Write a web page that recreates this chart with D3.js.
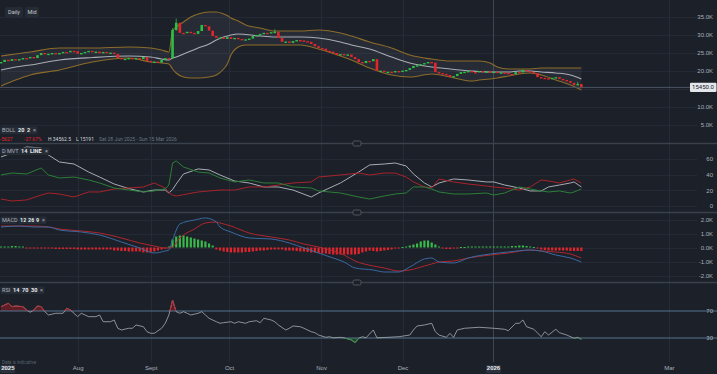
<!DOCTYPE html>
<html>
<head>
<meta charset="utf-8">
<title>Daily chart</title>
<script src="https://cdn.jsdelivr.net/npm/d3@7"></script>
<style>
  body { margin: 0; background: #1b2029; }
  svg { display: block; font-family: Roboto, "Open Sans", sans-serif; }
</style>
</head>
<body>
<svg id="chart" width="717" height="374"></svg>
<script>
// ---- data ----
// one close per daily candle, open = previous close
var firstOpen = 22200;
var closes = [22500,23100,22800,23300,23000,23300,23600,23500,23900,23600,
  24400,25000,24700,24800,25000,24700,25000,25300,25200,25600,
  25500,24800,25000,25300,25600,25300,25400,24900,25300,25000,
  25100,24700,23600,23300,23400,23600,23200,23600,23300,23900,
  22800,22500,22600,22300,23100,23600,23500,31400,33400,30600,
  30500,30900,30600,30300,31100,32800,32400,31200,29700,29200,
  29300,28900,29400,28900,29200,28900,28600,28800,29000,29700,
  30000,30300,30600,30500,30800,30900,29200,28100,28200,27800,
  28300,28600,28500,28300,28100,27500,26900,26400,26200,25600,
  25400,25000,24400,24700,24500,24600,23900,23300,22500,22200,
  22800,22700,23300,20000,20100,19700,19800,19600,20000,19900,
  20100,20300,20800,21400,21600,21900,22200,22500,22300,19700,
  19400,19200,18900,18300,18600,19200,19700,19800,20000,19700,
  19600,20000,19800,19900,19700,19800,19400,19600,19500,19200,
  19100,19700,19600,20300,20000,19700,19400,18300,18100,18000,
  17800,18100,18300,17800,17500,17200,16700,16100,16400,15450];
// [candle, low, high] for the visible wicks
var wicks = [[47, 23300, 31900], [48, 31200, 34562], [75, 30700, 31600], [158, 16100, 17000], [159, 15191, 16400]];
var lastPrice = 15450;

// Bollinger 20 2
var bandIdx = [0,4,8,16,25,35,41,44,46,47,48,50,52,54,57,59,61,62,63,65,67,71,75,82,87,93,96,101,107,112,118,123,129,131,134,136,139,142,145,148,152,156,159];
var bollUpper = [24170,24720,25280,26390,26390,26670,26390,25830,25280,31110,32220,33610,35000,35830,36390,36390,35830,35420,34720,33890,32780,31940,31110,31110,31390,30560,29720,28060,26390,24440,23330,22780,22780,22780,22220,21110,20560,20560,20560,20830,20830,20830,20830];
var bollMid = [20280,21110,21670,23060,23750,24170,23890,23330,23060,23610,23890,24720,25560,26390,27500,28610,29440,29720,30000,30280,30140,29720,29440,29440,29170,28060,27220,26110,23890,22220,21110,20560,20000,19860,19720,19720,19720,20000,20000,19720,19440,18890,17780];
var bollLower = [15830,17500,18890,20280,22500,23610,22500,22220,21940,20560,19440,18330,18060,18060,18330,18890,20560,21940,24440,26670,27220,27220,27220,27220,26110,24170,23060,20830,18890,18330,19170,18330,17220,17500,17780,18060,18610,19170,19440,18890,17500,16110,14720];

// DMI 14
var dmiIdx = [0,3,7,11,13,16,20,24,27,31,35,39,42,45,46,47,48,50,54,57,60,64,68,72,76,80,85,87,93,98,101,105,108,111,113,116,118,120,124,128,133,135,138,142,145,148,150,153,156,157,159];
var adx = [62.6,67.7,75.4,74.1,65.1,56.2,53.6,43.4,37.0,28.1,22.3,17.9,20.4,20.4,16.6,21.0,28.1,40.9,47.3,46.0,39.6,31.9,29.4,24.3,24.3,20.4,11.5,16.6,29.4,43.4,52.4,53.6,54.9,51.1,40.9,29.4,24.3,29.4,34.5,33.2,30.7,30.7,26.8,23.0,19.2,19.2,24.3,26.8,29.4,30.7,24.3];
var plusDI = [39.6,42.1,40.9,48.5,39.6,35.8,37.0,33.2,29.4,23.0,20.4,17.9,19.2,22.0,26.8,54.9,57.5,49.8,43.4,42.1,35.8,30.7,33.2,29.4,29.4,24.3,23.0,19.2,16.6,11.5,8.9,12.8,15.3,16.6,24.3,24.3,21.7,17.9,15.3,15.3,16.6,14.0,16.6,24.3,21.7,19.2,17.9,19.2,16.6,17.9,21.7];
var minusDI = [8.9,6.4,7.7,14.0,16.6,15.3,11.5,17.9,17.9,21.7,23.0,24.3,29.4,23.0,17.0,14.0,12.8,14.5,17.9,19.2,20.4,20.4,24.3,24.3,26.8,29.4,30.7,37.0,39.6,42.1,39.6,42.1,42.1,37.0,30.7,24.3,23.0,34.5,30.7,28.1,25.5,24.3,23.0,20.4,24.3,33.2,31.9,29.4,33.2,34.5,29.4];

// MACD 12 26 9
var macdIdx = [0,5,9,13,16,22,27,33,38,42,45,46,47,49,53,56,59,60,63,68,74,79,83,87,91,94,97,102,105,109,112,116,118,120,124,128,134,139,145,148,152,156,159];
var macdLine = [1464,1536,1464,1464,1250,1107,893,393,-36,-393,-250,-179,536,1679,1964,2107,1821,1464,1107,679,607,321,-36,-393,-750,-1036,-1464,-1607,-1750,-1750,-1393,-821,-750,-1036,-1107,-750,-464,-321,-179,-250,-536,-750,-1036];
var signalLine = [1536,1536,1536,1464,1321,1179,1036,679,321,107,-36,-36,36,679,1321,1750,1821,1750,1536,1036,750,536,250,36,-250,-536,-964,-1321,-1464,-1679,-1607,-1321,-1179,-1036,-964,-750,-536,-393,-179,-250,-321,-464,-750];
var macdHist = [70,70,70,105,105,70,70,-35,-35,-35,
  -35,-35,-70,-70,-70,-105,-105,-105,-105,-105,
  -105,-140,-140,-140,-140,-140,-140,-140,-140,-140,
  -140,-215,-215,-250,-250,-285,-285,-285,-285,-355,
  -355,-320,-285,-215,-140,-70,70,570,785,855,
  855,785,715,640,570,500,430,285,140,-140,
  -215,-285,-320,-355,-355,-355,-355,-320,-320,-285,
  -250,-215,-215,-180,-140,-140,-140,-140,-215,-215,
  -215,-250,-285,-285,-320,-355,-355,-390,-430,-430,
  -465,-500,-500,-500,-500,-500,-500,-500,-465,-355,
  -285,-215,-250,-285,-250,-215,-180,-140,-70,-35,
  35,70,140,215,285,430,500,500,355,215,
  70,-70,-105,-105,-70,-35,35,35,70,70,
  70,70,70,70,70,70,70,70,70,70,
  105,105,140,140,105,70,35,-70,-140,-180,
  -215,-215,-215,-215,-215,-215,-250,-250,-250,-250];

// RSI 14
var rsiIdx = [0,2,3,4,6,7,8,9,10,11,12,13,15,17,18,19,21,22,23,24,26,27,28,30,31,32,33,35,36,37,39,40,41,42,44,45,46,47,48,49,50,51,52,54,55,56,57,59,60,61,63,64,65,67,68,70,71,72,74,75,76,78,79,80,82,83,85,86,87,89,90,91,93,94,96,97,98,99,100,102,103,106,109,112,113,114,116,118,119,120,122,123,124,125,127,131,135,138,139,141,142,143,144,146,148,149,150,152,153,155,157,158,159];
var rsi = [76.4,81.4,76.4,77.4,76.4,71.5,68.1,71.5,77.4,76.4,69.0,64.1,66.6,66.6,74.0,71.5,61.6,66.6,64.1,61.6,61.6,64.1,54.1,54.1,56.7,44.4,41.9,44.4,44.4,49.3,46.7,39.3,37.0,37.0,44.4,51.8,64.1,86.3,69.0,66.6,69.0,66.6,64.1,66.6,69.0,64.1,59.2,54.1,51.8,52.7,54.1,51.8,54.1,51.8,54.1,55.6,52.7,59.2,56.7,54.1,49.3,41.9,44.4,47.8,46.7,44.4,39.3,37.9,34.4,31.0,31.9,30.3,31.0,30.3,27.0,23.0,29.6,31.9,30.3,41.9,30.3,31.0,31.9,34.4,41.9,47.8,49.3,51.8,39.3,34.4,31.0,37.0,31.0,41.9,44.4,45.9,44.4,42.9,40.8,51.8,51.8,56.7,46.7,42.9,31.9,39.3,34.4,42.9,37.9,34.4,29.6,31.0,28.1];

// time axis (candle positions)
var tickIdx = [1, 21, 41, 62.5, 87.7, 110, 134.8, 183];
var tickLabels = ["2025", "Aug", "Sept", "Oct", "Nov", "Dec", "2026", "Mar"];

var priceTicks = [5000, 10000, 15000, 20000, 25000, 30000, 35000];
var priceLabels = [5000, 10000, 20000, 25000, 30000, 35000]; // 15.0K sits under the price tag
var dmiTicks = [0, 20, 40, 60];
var macdTicks = [-2000, -1000, 0, 1000, 2000];
var rsiLevels = [70, 30];

// ---- scales ----
var svg = d3.select("#chart");
var W = 717;
var x = d3.scaleLinear().domain([0, 195]).range([1, 712.75]);
var yP = d3.scaleLinear().domain([0, 35000]).range([143, 17]);
var yD = d3.scaleLinear().domain([0, 60]).range([206, 159]);
var yM = d3.scaleLinear().domain([-2000, 2000]).range([275.5, 219.5]);
var yR = d3.scaleLinear().domain([30, 70]).range([338, 311]);

var txt = "#aab0ba";

// ---- grids ----
var grid = svg.append("g");
function hgrid(scale, vals) {
  grid.selectAll(null).data(vals).enter().append("line")
    .attr("x1", 0).attr("x2", 697)
    .attr("y1", d => Math.round(scale(d)) + 0.5).attr("y2", d => Math.round(scale(d)) + 0.5)
    .attr("stroke", "#232935").attr("stroke-width", 1);
}
hgrid(yP, priceTicks);
hgrid(yD, dmiTicks);
hgrid(yM, macdTicks);

grid.selectAll(null).data(tickIdx.slice(1)).enter().append("line")
  .attr("x1", d => Math.round(x(d)) + 0.5).attr("x2", d => Math.round(x(d)) + 0.5)
  .attr("y1", 0).attr("y2", 362)
  .attr("stroke", (d, i) => tickLabels[i + 1] === "2026" ? "#3d4552" : "#252c37");

// panel separators
var seps = [143.5, 212.5, 282.5];
svg.selectAll(null).data(seps).enter().append("line")
  .attr("x1", 0).attr("x2", W).attr("y1", d => d).attr("y2", d => d)
  .attr("stroke", "#3b414b").attr("stroke-width", 1.5);
svg.selectAll(null).data(seps).enter().append("rect")
  .attr("x", 353).attr("y", d => d - 2.5).attr("width", 8).attr("height", 5).attr("rx", 1.5)
  .attr("fill", "#1b2029").attr("stroke", "#5d636d").attr("stroke-width", 0.8);

// ---- price panel ----
var bandPts = bandIdx.map((d, i) => ({i: d, u: bollUpper[i], m: bollMid[i], l: bollLower[i]}));
svg.append("path").datum(bandPts)
  .attr("d", d3.area().x(d => x(d.i)).y0(d => yP(d.l)).y1(d => yP(d.u)).curve(d3.curveMonotoneX))
  .attr("fill", "rgba(200,205,215,0.07)");
[["u", "#8d6c2a"], ["l", "#8d6c2a"], ["m", "#a9adb4"]].forEach(function(s) {
  svg.append("path").datum(bandPts)
    .attr("d", d3.line().x(d => x(d.i)).y(d => yP(d[s[0]])).curve(d3.curveMonotoneX))
    .attr("fill", "none").attr("stroke", s[1]).attr("stroke-width", 1.1);
});

var candles = closes.map((c, i) => ({i: i, o: i === 0 ? firstOpen : closes[i - 1], c: c}));
var up = "#2cbf44", down = "#e2262c";
svg.selectAll(null).data(wicks).enter().append("line")
  .attr("x1", d => x(d[0])).attr("x2", d => x(d[0]))
  .attr("y1", d => yP(d[1])).attr("y2", d => yP(d[2]))
  .attr("stroke", d => candles[d[0]].c >= candles[d[0]].o ? up : down).attr("stroke-width", 0.8);
svg.selectAll(null).data(candles).enter().append("rect")
  .attr("x", d => x(d.i) - 1.3).attr("width", 2.6)
  .attr("y", d => yP(Math.max(d.o, d.c)))
  .attr("height", d => Math.max(1.4, Math.abs(yP(d.o) - yP(d.c))))
  .attr("fill", d => d.c >= d.o ? up : down);

svg.append("line").attr("x1", 0).attr("x2", 690)
  .attr("y1", yP(lastPrice)).attr("y2", yP(lastPrice))
  .attr("stroke", "#4d5562").attr("stroke-width", 1);

// ---- DMI ----
[[adx, "#a8acb3"], [minusDI, "#a8232a"], [plusDI, "#2c7f37"]].forEach(function(s) {
  svg.append("path").datum(dmiIdx.map((d, i) => [d, s[0][i]]))
    .attr("d", d3.line().x(d => x(d[0])).y(d => yD(d[1])))
    .attr("fill", "none").attr("stroke", s[1]).attr("stroke-width", 1);
});

// ---- MACD ----
svg.selectAll(null).data(macdHist).enter().append("rect")
  .attr("x", (d, i) => x(i) - 1.1).attr("width", 2.2)
  .attr("y", d => yM(Math.max(0, d)))
  .attr("height", d => Math.max(1, Math.abs(yM(d) - yM(0))))
  .attr("fill", d => d >= 0 ? "#3bb84a" : "#e3242b");
[[signalLine, "#b0262d"], [macdLine, "#3a6aa0"]].forEach(function(s) {
  svg.append("path").datum(macdIdx.map((d, i) => [d, s[0][i]]))
    .attr("d", d3.line().x(d => x(d[0])).y(d => yM(d[1])).curve(d3.curveMonotoneX))
    .attr("fill", "none").attr("stroke", s[1]).attr("stroke-width", 1);
});

// ---- RSI ----
var defs = svg.append("defs");
defs.append("clipPath").attr("id", "rsiHi").append("rect")
  .attr("x", 0).attr("y", 283).attr("width", W).attr("height", yR(70) - 283);
defs.append("clipPath").attr("id", "rsiLo").append("rect")
  .attr("x", 0).attr("y", yR(30)).attr("width", W).attr("height", 362 - yR(30));
var rsiPts = rsiIdx.map((d, i) => [d, rsi[i]]);
var rsiLine = d3.line().x(d => x(d[0])).y(d => yR(d[1]));
svg.append("path").datum(rsiPts).attr("clip-path", "url(#rsiHi)")
  .attr("d", d3.area().x(d => x(d[0])).y0(yR(70)).y1(d => yR(d[1])))
  .attr("fill", "#5e1e25");
svg.append("path").datum(rsiPts).attr("clip-path", "url(#rsiLo)")
  .attr("d", d3.area().x(d => x(d[0])).y0(yR(30)).y1(d => yR(d[1])))
  .attr("fill", "#1f4a29");
svg.selectAll(null).data(rsiLevels).enter().append("line")
  .attr("x1", 0).attr("x2", W).attr("y1", d => yR(d)).attr("y2", d => yR(d))
  .attr("stroke", "#54728e").attr("stroke-width", 1.2);
svg.append("path").datum(rsiPts).attr("d", rsiLine)
  .attr("fill", "none").attr("stroke", "#a9adb4").attr("stroke-width", 0.8);
svg.append("path").datum(rsiPts).attr("d", rsiLine).attr("clip-path", "url(#rsiHi)")
  .attr("fill", "none").attr("stroke", "#b8262e").attr("stroke-width", 0.9);
svg.append("path").datum(rsiPts).attr("d", rsiLine).attr("clip-path", "url(#rsiLo)")
  .attr("fill", "none").attr("stroke", "#2c8f3b").attr("stroke-width", 0.9);

// ---- right axes ----
function rightAxis(scale, vals, fmt) {
  var g = svg.append("g").attr("transform", "translate(713,0)")
    .call(d3.axisLeft(scale).tickValues(vals).tickFormat(fmt).tickSize(0).tickPadding(0));
  g.select(".domain").remove();
  g.selectAll("text").attr("fill", txt).attr("font-size", 6);
}
var kFmt = d => (d / 1000).toFixed(1) + "K";
rightAxis(yP, priceLabels, kFmt);
rightAxis(yD, dmiTicks, d => d);
rightAxis(yM, macdTicks, kFmt);
rightAxis(yR, rsiLevels, d => d);

// last price tag
svg.append("rect").attr("x", 690).attr("y", yP(lastPrice) - 4.6).attr("width", 26.5).attr("height", 9.2)
  .attr("rx", 1).attr("fill", "#e3e6ea");
svg.append("text").attr("x", 703).attr("y", yP(lastPrice) + 2.1).attr("text-anchor", "middle")
  .attr("font-size", 6).attr("fill", "#1b2029").text(lastPrice.toFixed(1));

// ---- time axis ----
var xg = svg.append("g").attr("transform", "translate(0,366)")
  .call(d3.axisBottom(x).tickValues(tickIdx).tickFormat((d, i) => tickLabels[i]).tickSize(0).tickPadding(0));
xg.select(".domain").remove();
xg.selectAll(".tick").each(function(d, i) {
  var lab = tickLabels[i];
  var t = d3.select(this);
  t.select("text").attr("fill", txt).attr("font-size", 6).attr("dy", "0.71em");
  if (/^\d{4}$/.test(lab)) {
    t.insert("rect", "text").attr("x", -7.5).attr("y", -1).attr("width", 15).attr("height", 8)
      .attr("rx", 1).attr("fill", "#2c323d");
    t.select("text").attr("fill", "#e8eaee").attr("font-weight", "bold");
  }
});
xg.select(".tick text").attr("text-anchor", "start").attr("x", -4);
xg.select(".tick rect").attr("x", -5);

svg.append("text").attr("x", 2).attr("y", 364).attr("font-size", 4.5).attr("fill", "#59606b")
  .text("Data is indicative");

// ---- legends ----
function legend(y, parts) {
  parts.forEach(function(p) {
    svg.append("rect").attr("x", p[0] - 1.5).attr("y", y - 5.5).attr("width", p[3] || p[1].length * 3.4 + 3)
      .attr("height", 7.5).attr("rx", 1).attr("fill", "#262c36");
    svg.append("text").attr("x", p[0]).attr("y", y).attr("font-size", 5.5)
      .attr("fill", p[2]).attr("font-weight", p[2] === "#e6e8ec" ? "bold" : "normal").text(p[1]);
  });
}
legend(132, [[2, "BOLL", "#aeb4be"], [18, "20", "#e6e8ec"], [27, "2", "#e6e8ec"], [33, "×", "#aeb4be", 6]]);
legend(153, [[2, "D MVT", "#aeb4be"], [21, "14", "#e6e8ec"], [30, "LINE", "#e6e8ec"], [45, "×", "#aeb4be", 6]]);
legend(222, [[2, "MACD", "#aeb4be"], [20, "12", "#e6e8ec"], [28, "26", "#e6e8ec"], [36, "9", "#e6e8ec"], [42, "×", "#aeb4be", 6]]);
legend(292, [[2, "RSI", "#aeb4be"], [13, "14", "#e6e8ec"], [22, "70", "#e6e8ec"], [31, "30", "#e6e8ec"], [40, "×", "#aeb4be", 6]]);

var info = [[0, "-5627", "#e2262c"], [24, "-27.67%", "#e2262c"], [48, "H 34562.5", "#d4d7dc"], [76, "L 15191", "#d4d7dc"], [99, "Sat 28 Jun 2025 - Sun 15 Mar 2026", "#6f7681"]];
info.forEach(function(p) {
  svg.append("text").attr("x", p[0]).attr("y", 140.5).attr("font-size", 5).attr("fill", p[2]).text(p[1]);
});

// top-left buttons
[[5, 18, "Daily"], [25, 14, "Mid"]].forEach(function(b) {
  svg.append("rect").attr("x", b[0]).attr("y", 7).attr("width", b[1]).attr("height", 10)
    .attr("rx", 1.5).attr("fill", "#252b35");
  svg.append("text").attr("x", b[0] + b[1] / 2).attr("y", 14).attr("text-anchor", "middle")
    .attr("font-size", 5.5).attr("fill", "#c6cad1").text(b[2]);
});
</script>
</body>
</html>
